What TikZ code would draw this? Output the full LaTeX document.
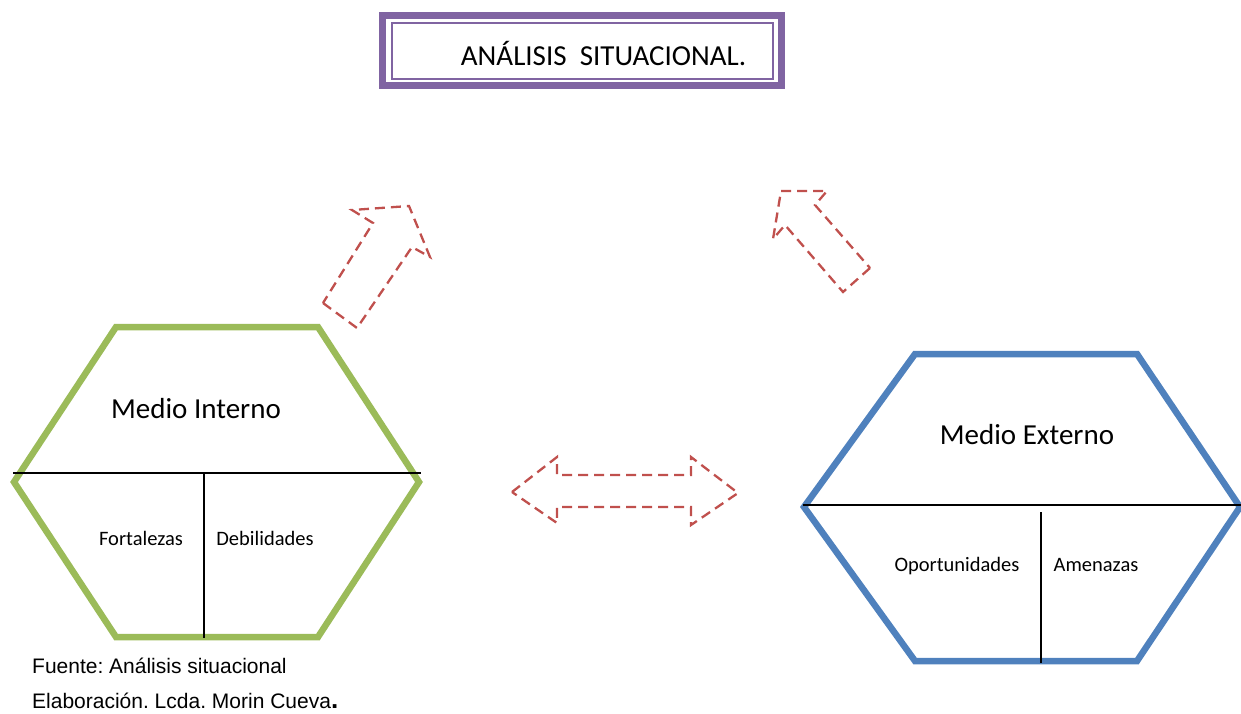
\documentclass[tikz,border=0pt]{standalone}
\usepackage{fontspec}
\setmainfont{Carlito}
\newfontfamily\footfont{Liberation Sans}
\usetikzlibrary{positioning}
\definecolor{framepurple}{HTML}{8064A2}
\definecolor{hexgreen}{HTML}{9BBB59}
\definecolor{hexblue}{HTML}{4F81BD}
\definecolor{arrowred}{HTML}{C0504D}
\frenchspacing

\begin{document}
\begin{tikzpicture}[
    x=1pt, y=-1pt,
    bigtxt/.style={inner sep=0pt, anchor=base, font=\fontsize{29}{34}\selectfont},
    smalltxt/.style={inner sep=0pt, anchor=base, font=\fontsize{20.5}{24}\selectfont},
    foot/.style={inner sep=0pt, anchor=base west, font=\footfont\fontsize{21}{25}\selectfont},
    hexline/.style={line width=6.5pt, line join=miter},
    divider/.style={line width=1.6pt, black},
    blockarr/.style={draw=arrowred, line width=2.3pt, dash pattern=on 10pt off 6pt, line join=miter}
]
\useasboundingbox (0,0) rectangle (1241,713);

\draw[framepurple, line width=7.5pt] (382.5,15.5) rectangle (781.5,85.5);
\draw[framepurple, line width=2pt] (391.5,23) rectangle (772.5,79);
\node[bigtxt] (title) at (603.5,65) {ANÁLISIS\ \ SITUACIONAL.};

\draw[blockarr] (323,303) -- (357,328) -- (412,247) -- (430,257) -- (409,206)
    -- (352,210) -- (373,223) -- cycle;
\draw[blockarr] (870,268) -- (843,292) -- (785,225) -- (773,239) -- (781,191)
    -- (827,191) -- (815,205) -- cycle;
\draw[blockarr] (512,492) -- (557,457) -- (557,475) -- (691,475) -- (691,457)
    -- (738,493) -- (691,525) -- (691,507) -- (557,507) -- (557,523) -- cycle;

\draw[hexgreen, hexline] (116,327) -- (318,327) -- (419,482) -- (318,637)
    -- (116,637) -- (14,482) -- cycle;
\coordinate (inL) at (13,473);
\coordinate (inR) at (421,473);
\coordinate (inT) at (204,473);
\coordinate (inB) at (204,638);
\draw[divider] (inL) -- (inR);
\draw[divider] (inT) -- (inB);
\node[bigtxt] (interno) at (196,418) {Medio Interno};
\node[smalltxt] (fortalezas) at (141,545) {Fortalezas};
\node[smalltxt] (debilidades) at (265,545) {Debilidades};

\draw[hexblue, hexline] (915,354) -- (1137,354) -- (1240,507) -- (1137,661)
    -- (915,661) -- (804,507) -- cycle;
\coordinate (exL) at (803,505);
\coordinate (exR) at (1241,505);
\coordinate (exT) at (1041,512);
\coordinate (exB) at (1041,663);
\draw[divider] (exL) -- (exR);
\draw[divider] (exT) -- (exB);
\node[bigtxt] (externo) at (1027,444) {Medio Externo};
\node[smalltxt] (oportunidades) at (957,571) {Oportunidades};
\node[smalltxt] (amenazas) at (1096,571) {Amenazas};

\node[foot] (fuente) at (32,673) {Fuente: Análisis situacional};
\node[foot] (elab) at (32,708) {Elaboración. Lcda. Morin Cueva{\fontsize{26}{28}\selectfont\bfseries .}};
\end{tikzpicture}
\end{document}
